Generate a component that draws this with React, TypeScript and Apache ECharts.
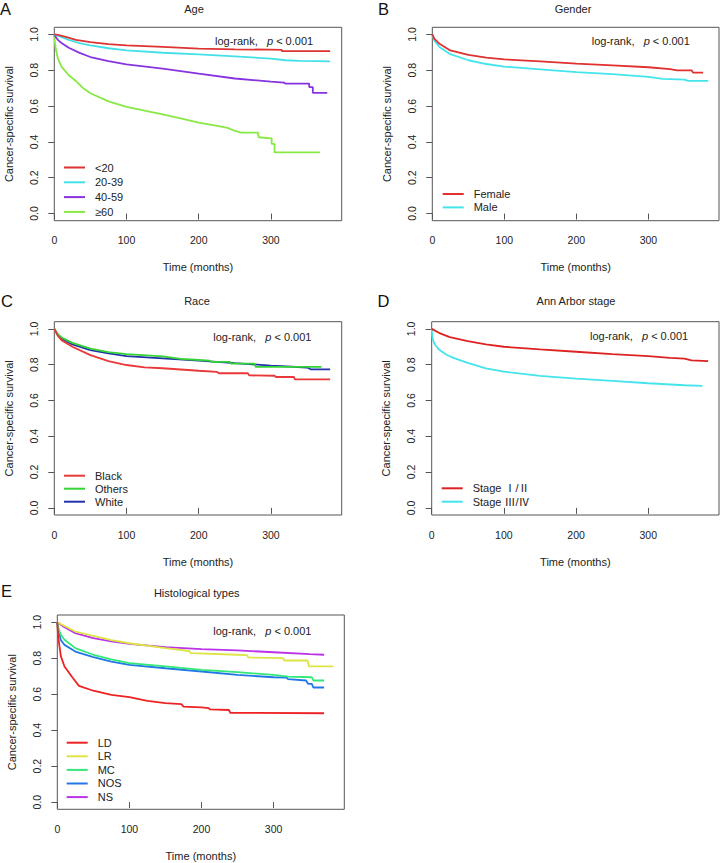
import React, { useEffect, useRef } from "react";
import * as echarts from "echarts";

const FONT = "Liberation Sans, Arial, Helvetica, Noto Sans CJK SC, sans-serif";

// Panel A: Age
const ageNames = ["<20", "20-39", "40-59", "≥60"];
const ageLt20 = [[0,1],[5,0.998],[17,0.985],[30,0.97],[50,0.957],[75,0.946],[100,0.939],[150,0.931],[200,0.921],[250,0.917],[300,0.915],[315,0.914],[315,0.907],[382,0.907]];
const age20to39 = [[0,1],[10,0.985],[20,0.97],[35,0.952],[50,0.939],[75,0.923],[100,0.911],[150,0.898],[200,0.889],[250,0.878],[300,0.865],[320,0.856],[340,0.852],[382,0.85]];
const age40to59 = [[0,1],[3,0.98],[5,0.97],[10,0.952],[20,0.926],[35,0.897],[50,0.874],[75,0.851],[100,0.833],[150,0.809],[200,0.781],[250,0.754],[300,0.737],[318,0.731],[320,0.726],[350,0.726],[353,0.726],[353,0.706],[358,0.706],[358,0.674],[378,0.674]];
const ageGe60 = [[0,1],[1,0.95],[2,0.92],[5,0.865],[10,0.82],[20,0.772],[30,0.74],[40,0.7],[50,0.672],[75,0.626],[100,0.596],[125,0.575],[150,0.554],[175,0.532],[200,0.508],[220,0.494],[240,0.478],[250,0.461],[259,0.452],[282,0.452],[283,0.426],[300,0.42],[301,0.42],[301,0.389],[305,0.389],[305,0.341],[368,0.341]];
const ageColors = ["#DD3333", "#44E0E8", "#8833E0", "#88E844"];

// Panel B: Gender
const genderNames = ["Female", "Male"];
const female = [[0,1],[3,0.975],[10,0.948],[25,0.911],[50,0.886],[75,0.871],[100,0.861],[150,0.85],[200,0.837],[250,0.827],[300,0.817],[330,0.806],[340,0.8],[360,0.8],[362,0.787],[376,0.787]];
const male = [[0,1],[3,0.965],[10,0.93],[25,0.89],[50,0.856],[75,0.835],[100,0.82],[150,0.805],[200,0.79],[250,0.778],[300,0.763],[320,0.752],[350,0.748],[355,0.741],[383,0.741]];
const genderColors = ["#E03030", "#44E4EC"];

// Panel C: Race
const raceNames = ["Black", "Others", "White"];
const black = [[0,1],[5,0.96],[10,0.937],[25,0.9],[50,0.853],[75,0.82],[100,0.798],[125,0.785],[150,0.78],[200,0.766],[225,0.76],[228,0.752],[268,0.752],[270,0.74],[305,0.738],[307,0.731],[332,0.731],[333,0.718],[382,0.718]];
const others = [[0,1],[5,0.97],[10,0.952],[25,0.922],[50,0.89],[75,0.87],[100,0.859],[150,0.846],[175,0.832],[200,0.826],[215,0.822],[217,0.815],[243,0.815],[245,0.806],[277,0.806],[279,0.788],[370,0.788]];
const white = [[0,1],[5,0.965],[10,0.946],[25,0.913],[50,0.881],[75,0.863],[100,0.848],[150,0.835],[200,0.822],[250,0.808],[300,0.795],[350,0.784],[355,0.774],[382,0.774]];
const raceColors = ["#E83838", "#33D433", "#2233AA"];

// Panel D: Ann Arbor stage
const stageNames = ["Stage \u2160/\u2161", "Stage \u2162/\u2163"];
const stage12 = [[0,1],[10,0.978],[25,0.954],[50,0.931],[75,0.913],[100,0.9],[150,0.885],[200,0.872],[250,0.859],[300,0.848],[330,0.838],[350,0.834],[360,0.824],[383,0.82]];
const stage34 = [[0,1],[1,0.95],[3,0.925],[5,0.91],[10,0.885],[20,0.857],[30,0.838],[50,0.81],[75,0.779],[100,0.761],[150,0.737],[200,0.722],[250,0.709],[300,0.696],[350,0.685],[375,0.681]];
const stageColors = ["#DD2222", "#44E4EC"];

// Panel E: Histological types
const histNames = ["LD", "LR", "MC", "NOS", "NS"];
const histLD = [[0,1],[1,0.93],[3,0.865],[5,0.81],[10,0.754],[20,0.698],[30,0.646],[50,0.619],[75,0.596],[100,0.583],[125,0.563],[150,0.55],[172,0.545],[175,0.531],[200,0.526],[210,0.522],[212,0.515],[238,0.512],[240,0.496],[370,0.494]];
const histLR = [[0,1],[25,0.948],[50,0.924],[75,0.9],[100,0.883],[150,0.856],[183,0.84],[185,0.828],[250,0.819],[263,0.817],[265,0.804],[313,0.8],[315,0.787],[347,0.787],[349,0.754],[383,0.754]];
const histMC = [[0,1],[2,0.96],[5,0.93],[10,0.902],[25,0.856],[50,0.819],[75,0.794],[100,0.772],[150,0.754],[200,0.735],[250,0.722],[300,0.707],[320,0.698],[353,0.694],[355,0.676],[370,0.676]];
const histNOS = [[0,1],[1,0.96],[3,0.93],[5,0.9],[10,0.874],[25,0.837],[50,0.806],[75,0.781],[100,0.763],[150,0.744],[200,0.726],[250,0.707],[300,0.694],[318,0.692],[320,0.683],[345,0.676],[348,0.657],[353,0.657],[355,0.637],[370,0.637]];
const histNS = [[0,1],[10,0.972],[25,0.939],[50,0.911],[75,0.893],[100,0.88],[150,0.861],[200,0.85],[250,0.843],[300,0.833],[350,0.822],[370,0.819]];
const histColors = ["#EE2222", "#DDE444", "#33E877", "#2277E8", "#BB33E8"];

const xTicks = [0, 100, 200, 300];
const yTicks = [0, 0.2, 0.4, 0.6, 0.8, 1.0];
const panelTitles = ["Age", "Gender", "Race", "Ann Arbor stage", "Histological types"];
const panelLetters = ["A", "B", "C", "D", "E"];
const xLabel = "Time (months)";
const yLabel = "Cancer-specific survival";

// layout (positions in px)
const grids = [
  { left: 54.3, top: 27.3, width: 287.4, height: 193.4 },
  { left: 432.3, top: 27.3, width: 286.7, height: 193.4 },
  { left: 54.3, top: 321.7, width: 287.4, height: 193.3 },
  { left: 431.7, top: 321.7, width: 287.3, height: 193.3 },
  { left: 57.3, top: 615, width: 287, height: 194.3 },
];
const titlePos = [[194, 8.5], [573, 8.5], [197, 300.7], [576, 300.7], [196.7, 593.3]];
const letterPos = [[0, 8.5], [378, 8.5], [1, 300.7], [377.5, 300.7], [1, 591]];
const logrankPos = [[215, 41.3], [591.7, 41.3], [213.3, 336.7], [590, 335.7], [213.3, 631]];
const legendPos = [
  { left: 64, top: 162, gap: 3.8 },
  { left: 442.7, top: 188.5, gap: 2.4 },
  { left: 64, top: 470.2, gap: 2 },
  { left: 441.7, top: 482.8, gap: 2.4 },
  { left: 66.7, top: 737.2, gap: 2.6 },
];

const panels = [
  { names: ageNames, data: [ageLt20, age20to39, age40to59, ageGe60], colors: ageColors },
  { names: genderNames, data: [female, male], colors: genderColors },
  { names: raceNames, data: [black, others, white], colors: raceColors },
  { names: stageNames, data: [stage12, stage34], colors: stageColors },
  { names: histNames, data: [histLD, histLR, histMC, histNOS, histNS], colors: histColors },
];

export default function App() {
  const ref = useRef<HTMLDivElement>(null);
  useEffect(() => {
    if (!ref.current) return;
    const chart = echarts.init(ref.current, undefined, { renderer: "svg" });
    const textColor = "#222";
    const axisColor = "#555";

    const gridOpt = grids.map((g) => ({
      ...g,
      show: true,
      borderColor: axisColor,
      borderWidth: 1,
      backgroundColor: "transparent",
      containLabel: false,
    }));

    const xAxes = grids.map((_, i) => ({
      type: "value",
      gridIndex: i,
      min: 0,
      max: 398,
      name: xLabel,
      nameLocation: "middle",
      nameGap: 41,
      nameTextStyle: { fontSize: 11, color: textColor, fontFamily: FONT },
      axisLine: { show: false },
      axisTick: { show: true, length: 6, inside: false, customValues: xTicks, lineStyle: { color: axisColor } },
      axisLabel: { show: true, margin: 14.5, fontSize: 10.5, color: textColor, fontFamily: FONT, customValues: xTicks, formatter: (v: number) => String(v) },
      splitLine: { show: false },
    }));

    const yAxes = grids.map((_, i) => ({
      type: "value",
      gridIndex: i,
      min: -0.04,
      max: 1.04,
      name: yLabel,
      nameLocation: "middle",
      nameGap: 40,
      nameRotate: 90,
      nameTextStyle: { fontSize: 11, color: textColor, fontFamily: FONT },
      axisLine: { show: false },
      axisTick: { show: true, length: 6, customValues: yTicks, lineStyle: { color: axisColor } },
      axisLabel: { show: true, rotate: 90, margin: 15.5, fontSize: 10.5, color: textColor, fontFamily: FONT, customValues: yTicks, formatter: (v: number) => v.toFixed(1) },
      splitLine: { show: false },
    }));

    const series: any[] = [];
    panels.forEach((p, i) => {
      p.names.forEach((name, j) => {
        series.push({
          type: "line",
          name,
          xAxisIndex: i,
          yAxisIndex: i,
          data: p.data[j],
          symbol: "none",
          color: p.colors[j],
          lineStyle: { width: 1.8, color: p.colors[j] },
          z: 10 - j,
        });
      });
    });

    const legends = panels.map((p, i) => ({
      orient: "vertical",
      left: legendPos[i].left,
      top: legendPos[i].top,
      itemGap: legendPos[i].gap,
      itemWidth: 21,
      itemHeight: 2,
      icon: "rect",
      selectedMode: false,
      padding: 0,
      itemStyle: { borderWidth: 0 },
      textStyle: { fontSize: 11, color: textColor, fontFamily: FONT, padding: [0, 0, 0, 5] },
      data: p.names,
    }));

    const graphics: any[] = [];
    panelTitles.forEach((t, i) => {
      graphics.push({
        type: "text",
        x: titlePos[i][0],
        y: titlePos[i][1],
        style: { text: t, fontSize: 11, fontFamily: FONT, fill: textColor, align: "center", verticalAlign: "middle" },
      });
      graphics.push({
        type: "text",
        x: letterPos[i][0],
        y: letterPos[i][1],
        style: { text: panelLetters[i], fontSize: 16.5, fontFamily: FONT, fill: "#111", align: "left", verticalAlign: "middle" },
      });
      graphics.push({
        type: "text",
        x: logrankPos[i][0],
        y: logrankPos[i][1],
        style: {
          text: "{a|log-rank,   }{b|p}{a| < 0.001}",
          fontSize: 11,
          fontFamily: FONT,
          fill: textColor,
          align: "left",
          verticalAlign: "middle",
          rich: {
            a: { fontSize: 11, fontFamily: FONT, fill: textColor, color: textColor },
            b: { fontSize: 11, fontFamily: FONT, fontStyle: "italic", fill: textColor, color: textColor },
          },
        },
      });
    });

    chart.setOption({
      animation: false,
      backgroundColor: "#ffffff",
      grid: gridOpt,
      xAxis: xAxes,
      yAxis: yAxes,
      legend: legends,
      series,
      graphic: graphics,
    });
    return () => chart.dispose();
  }, []);
  return (
    <div
      ref={ref}
      style={{ position: "fixed", left: 0, top: 0, width: 720, height: 863, background: "#fff" }}
    />
  );
}
